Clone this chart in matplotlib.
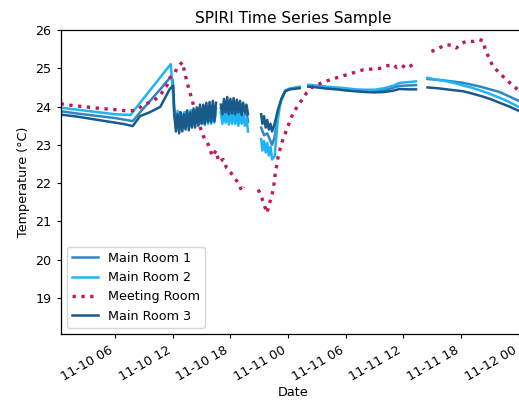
import numpy as np
import pandas as pd
import matplotlib
matplotlib.use("Agg")
import matplotlib.pyplot as plt
import matplotlib.dates as mdates

plt.rcParams["font.size"] = 9.2
plt.rcParams["xtick.major.size"] = 3.2
plt.rcParams["ytick.major.size"] = 3.2
plt.rcParams["axes.linewidth"] = 0.9

nan = np.nan
start_day = pd.Timestamp("2018-11-10")

# hours after 11-10 00:00
mr1_hours = [0.33, 2, 4, 6, 7.84, 8.6, 10.7, 11.7, 12.0, 12.15,
             12.33, 12.67, 13.0, 13.33, 13.67, 14.0, 14.33, 14.67, 15.0, 15.33, 15.67, 16.0, 16.33, 16.5,
             16.75,
             17.0, 17.33, 17.67, 18.0, 18.33, 18.67, 19.0, 19.33, 19.67, 19.83,
             20.5,
             21.2, 21.5, 21.83, 22.17, 22.33, 22.6, 22.95, 23.3, 23.7, 24.2, 25.2,
             25.6,
             26.1, 28, 30, 32, 34, 35.6, 37.3,
             37.9,
             38.5, 40, 42.2, 44, 46, 47.9, 48.6]
mr1_temp = [23.88, 23.82, 23.76, 23.70, 23.62, 23.85, 24.45, 24.75, 24.70, 23.80,
            23.55, 23.85, 23.50, 23.85, 23.50, 23.90, 23.55, 23.95, 23.60, 24.00, 23.62, 24.00, 23.65, 23.95,
            nan,
            23.95, 23.70, 24.05, 23.70, 24.05, 23.70, 24.00, 23.68, 23.90, 23.60,
            nan,
            23.45, 23.25, 23.30, 23.10, 23.00, 23.20, 23.85, 24.20, 24.42, 24.47, 24.50,
            nan,
            24.55, 24.50, 24.45, 24.41, 24.43, 24.54, 24.56,
            nan,
            24.72, 24.69, 24.62, 24.52, 24.38, 24.16, 24.08]

mr2_hours = [0.33, 2, 4, 6, 7.6, 11.8, 12.15,
             12.33, 12.5, 12.67, 12.83, 13.0, 13.17, 13.33, 13.5, 13.67, 13.83, 14.0, 14.17, 14.33,
             14.5, 14.67, 14.83, 15.0, 15.17, 15.33, 15.5, 15.67, 15.83, 16.0, 16.17, 16.33, 16.5,
             16.75,
             17.0, 17.17, 17.33, 17.5, 17.67, 17.83, 18.0, 18.17, 18.33, 18.5, 18.67, 18.83,
             19.0, 19.17, 19.33, 19.5, 19.67, 19.83,
             20.5,
             21.2, 21.33, 21.5, 21.67, 21.83, 22.0, 22.17, 22.33,
             22.6, 22.95, 23.2, 23.7, 24.2, 25.2,
             25.6,
             26.1, 27, 28, 29, 30, 31, 32, 33, 34, 35, 35.6, 37.0, 37.3,
             37.9,
             38.5, 39.5, 40.5, 41.5, 42.2, 43, 44, 45, 46, 47, 47.9, 48.6]
mr2_temp = [23.97, 23.92, 23.86, 23.80, 23.78, 25.11, 23.92,
            23.60, 23.88, 23.55, 23.85, 23.52, 23.85, 23.55, 23.88, 23.52, 23.90, 23.50, 23.88, 23.55,
            23.92, 23.52, 23.90, 23.55, 23.95, 23.52, 23.90, 23.55, 23.95, 23.55, 23.92, 23.58, 23.88,
            nan,
            23.85, 23.55, 23.92, 23.58, 23.90, 23.53, 23.88, 23.55, 23.92, 23.55, 23.85, 23.50,
            23.82, 23.55, 23.80, 23.50, 23.70, 23.35,
            nan,
            23.15, 22.85, 23.10, 22.80, 23.05, 22.72, 22.95, 22.62,
            22.70, 23.70, 24.10, 24.40, 24.47, 24.52,
            nan,
            24.57, 24.55, 24.52, 24.50, 24.48, 24.45, 24.44, 24.44, 24.48, 24.55, 24.62, 24.65, 24.66,
            nan,
            24.75, 24.70, 24.66, 24.60, 24.55, 24.50, 24.42, 24.33, 24.23, 24.12, 24.00, 23.93]

meeting_hours = [0.33, 1.5, 3, 4.5, 6, 7.5, 8.3, 9.0, 10.0, 10.7, 11.4, 11.7, 12.2, 12.5, 13.0,
                 13.2, 13.5, 13.8, 14.2, 14.7, 15.2, 15.8, 16.1, 16.5, 16.8, 17.26, 17.6, 17.8,
                 18.3, 18.8, 19.2, 19.4,
                 20.0,
                 20.9, 21.2, 21.5, 21.8, 22.1, 22.46, 22.63, 22.97, 23.33, 23.85, 24.53, 25.23,
                 25.93, 26.6, 28.35, 30.08, 31.8, 33.55, 34.0, 34.93, 35.3, 35.8, 36.32, 37.0, 37.5,
                 37.8,
                 38.9, 39.5, 40.4, 41.0, 41.5, 42.0, 42.6, 43.2, 43.9, 44.3, 44.5, 45.3, 46.7,
                 47.9, 48.6]
meeting_temp = [24.07, 24.03, 23.99, 23.95, 23.92, 23.88, 23.92, 24.05, 24.15, 24.30, 24.55, 24.75,
                24.88, 25.02, 25.16,
                24.95, 24.62, 24.36, 24.00, 23.57, 23.22, 22.96, 22.70, 22.85, 22.55, 22.62,
                22.40, 22.36, 22.18, 22.01, 21.79, 21.90,
                nan,
                21.83, 21.66, 21.44, 21.22, 21.50, 21.83, 22.18, 22.70, 23.05, 23.40, 23.84,
                24.10, 24.36, 24.53, 24.70, 24.83, 24.96, 25.00, 25.05, 25.10, 25.02, 25.08,
                25.00, 25.10, 25.08,
                nan,
                25.44, 25.50, 25.62, 25.60, 25.53, 25.65, 25.71, 25.70, 25.75, 25.72, 25.49,
                25.05, 24.70, 24.44, 24.32]

mr3_hours = [0.33, 1, 2, 3, 4, 5, 6, 7, 7.84, 8.6, 9.6, 10.7, 11.7, 12.05, 12.2,
             12.33, 12.5, 12.67, 12.83, 13.0, 13.17, 13.33, 13.5, 13.67, 13.83, 14.0, 14.17, 14.33,
             14.5, 14.67, 14.83, 15.0, 15.17, 15.33, 15.5, 15.67, 15.83, 16.0, 16.17, 16.33, 16.5,
             16.75,
             17.0, 17.17, 17.33, 17.5, 17.67, 17.83, 18.0, 18.17, 18.33, 18.5, 18.67, 18.83,
             19.0, 19.17, 19.33, 19.5, 19.67, 19.83,
             20.5,
             21.2, 21.33, 21.5, 21.67, 21.83, 22.0, 22.17, 22.33,
             22.6, 22.95, 23.3, 23.7, 24.2, 25.2,
             25.6,
             26.1, 27, 28, 29, 30, 31, 32, 33, 34, 35, 35.6, 36.5, 37.3,
             37.9,
             38.5, 39.5, 40.5, 41.5, 42.2, 43, 44, 45, 46, 47, 47.9, 48.6]
mr3_temp = [23.79, 23.77, 23.74, 23.70, 23.66, 23.62, 23.58, 23.54, 23.49, 23.75, 23.85, 23.99,
            24.46, 24.55, 23.70,
            23.35, 23.80, 23.30, 23.85, 23.35, 23.80, 23.40, 23.90, 23.38, 23.85, 23.45, 23.95, 23.45,
            23.98, 23.50, 24.05, 23.55, 24.05, 23.55, 24.10, 23.60, 24.12, 23.60, 24.15, 23.62, 24.10,
            nan,
            24.05, 23.80, 24.20, 23.85, 24.25, 23.80, 24.20, 23.82, 24.22, 23.80, 24.18, 23.85,
            24.15, 23.78, 24.10, 23.85, 24.05, 23.80,
            nan,
            23.80, 23.55, 23.75, 23.45, 23.65, 23.40, 23.55, 23.35,
            23.55, 23.92, 24.20, 24.40, 24.45, 24.48,
            nan,
            24.52, 24.50, 24.47, 24.45, 24.42, 24.40, 24.38, 24.37, 24.38, 24.42, 24.46, 24.45, 24.45,
            nan,
            24.50, 24.48, 24.45, 24.42, 24.40, 24.35, 24.28, 24.20, 24.10, 24.00, 23.90, 23.82]


def to_dates(hours):
    return start_day + pd.to_timedelta(hours, unit="h")


fig = plt.figure(figsize=(5.19, 4.03), dpi=100)
ax = fig.add_axes([0.1166, 0.1705, 0.897, 0.755])

ax.plot(to_dates(mr1_hours), mr1_temp, color="#2f86c3", lw=1.8, label="Main Room 1")
ax.plot(to_dates(mr2_hours), mr2_temp, color="#1fb4f5", lw=1.8, label="Main Room 2")
ax.plot(to_dates(meeting_hours), meeting_temp, color="#c2185b", lw=2.4, ls=":",
        label="Meeting Room")
ax.plot(to_dates(mr3_hours), mr3_temp, color="#1a5a8a", lw=1.8, label="Main Room 3")

ax.set_xlim(to_dates([0.33])[0], to_dates([48.75])[0])
ax.set_ylim(18.05, 26)
ax.set_yticks([19, 20, 21, 22, 23, 24, 25, 26])
ax.xaxis.set_major_locator(mdates.HourLocator(byhour=[0, 6, 12, 18]))
ax.xaxis.set_major_formatter(mdates.DateFormatter("%m-%d %H"))
for lbl in ax.get_xticklabels():
    lbl.set_rotation(30)
    lbl.set_ha("right")

ax.set_title("SPIRI Time Series Sample", pad=5)
ax.set_xlabel("Date", labelpad=2)
ax.set_ylabel("Temperature (°C)")
ax.legend(loc="lower left")

fig.savefig("out.png", dpi=100)
